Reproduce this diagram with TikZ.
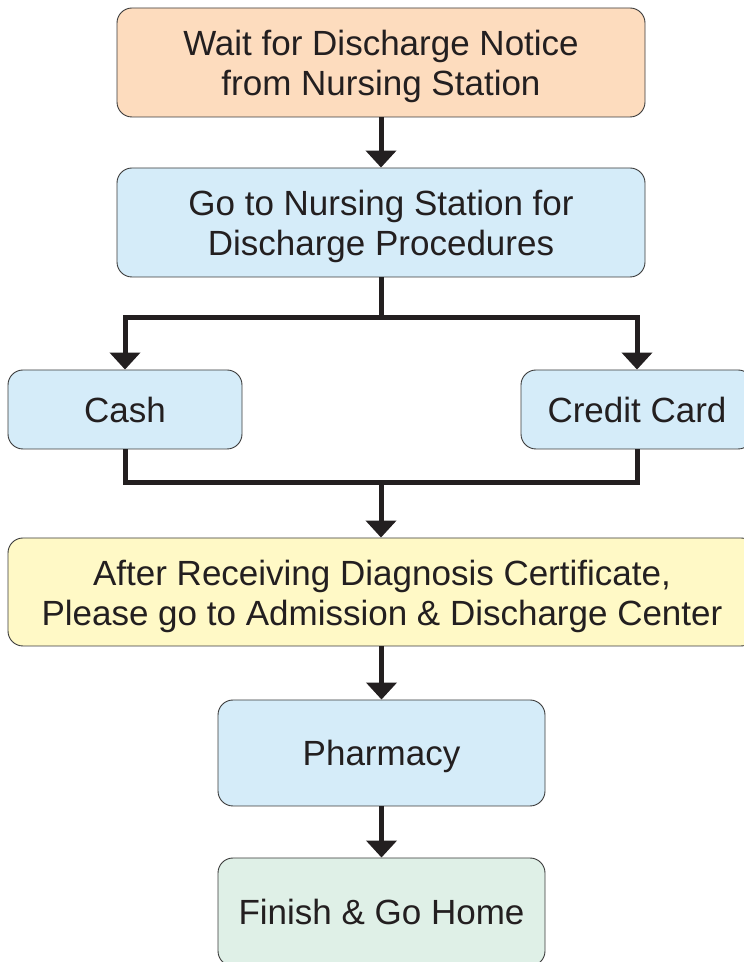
\documentclass[tikz,border=0pt]{standalone}
\usepackage{fontspec}
\setmainfont{Liberation Sans}
\usetikzlibrary{arrows.meta}
\definecolor{peach}{HTML}{FDDCBE}
\definecolor{lblue}{HTML}{D5ECF9}
\definecolor{lyellow}{HTML}{FFF9C6}
\definecolor{lgreen}{HTML}{DFF0E7}
\definecolor{ink}{HTML}{231F20}
\definecolor{edge}{HTML}{3A3A3A}
\newcommand{\twolines}[2]{\begin{tabular}[t]{@{}c@{}}#1\\#2\end{tabular}}
\tikzset{
  box/.style={draw=edge, line width=0.9pt, rounded corners=15pt, align=center,
    text=ink, font=\fontsize{35}{40}\selectfont, inner sep=0pt},
  oneline/.style={text height=25.5pt, text depth=0pt},
  twoline/.style={text height=33.5pt, text depth=46.5pt},
  conn/.style={draw=ink, line width=5pt},
  arr/.style={conn, -{Triangle[length=17pt,width=30pt]}},
}
\begin{document}
\begin{tikzpicture}[x=1pt,y=1pt]
\useasboundingbox (0,0) rectangle (744,962);
\clip (0,0) rectangle (744,962);
\node[box, twoline, fill=peach, minimum width=528pt, minimum height=109pt] (top) at (381,899.5)
  {\twolines{Wait for Discharge Notice}{from Nursing Station}};
\node[box, twoline, fill=lblue, minimum width=528pt, minimum height=109pt] (proc) at (381,739.5)
  {\twolines{Go to Nursing Station for}{Discharge Procedures}};
\node[box, oneline, fill=lblue, minimum width=234pt, minimum height=79pt] (cash) at (125,552.5) {Cash};
\node[box, oneline, fill=lblue, minimum width=232pt, minimum height=79pt] (credit) at (637,552.5) {Credit Card};
\node[box, twoline, fill=lyellow, minimum width=748pt, minimum height=108pt] (cert) at (382,370)
  {\twolines{After Receiving Diagnosis Certificate,}{Please go to Admission \& Discharge Center}};
\node[box, oneline, fill=lblue, minimum width=327pt, minimum height=106pt] (pharm) at (381.5,209) {Pharmacy};
\node[box, oneline, fill=lgreen, minimum width=327pt, minimum height=108pt] (home) at (381.5,50) {Finish \& Go Home};

\coordinate (split) at (381,644);
\coordinate (merge) at (381,479);

\draw[arr] (top.south) -- (proc.north);
\draw[conn] (proc.south) -- (split);
\draw[arr] (split) -| (cash.north);
\draw[arr] (split) -| (credit.north);
\draw[conn] (cash.south) |- (merge) -| (credit.south);
\draw[arr] (merge) -- (merge |- cert.north);
\draw[arr] (cert.south -| pharm.north) -- (pharm.north);
\draw[arr] (pharm.south) -- (home.north);
\end{tikzpicture}
\end{document}
